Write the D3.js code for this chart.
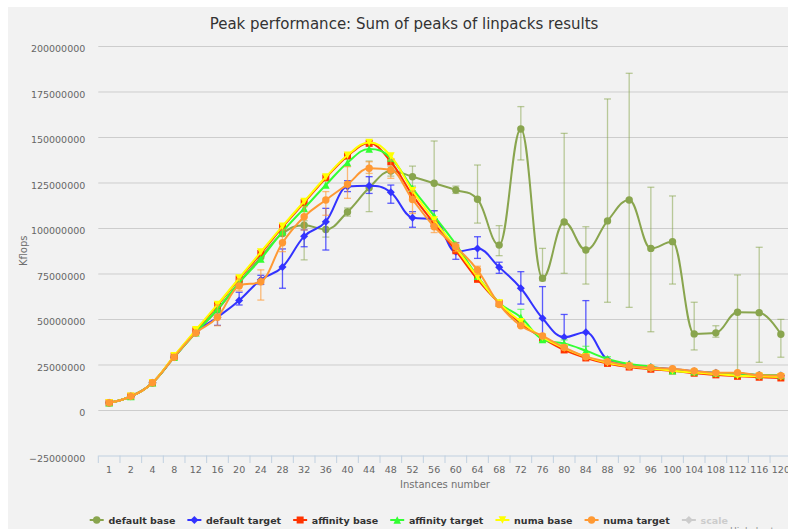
<!DOCTYPE html>
<html>
<head>
<meta charset="utf-8">
<script src="https://cdn.jsdelivr.net/npm/d3@7"></script>
<style>
html, body { margin: 0; padding: 0; background: #fff; overflow: hidden; }
svg { display: block; font-family: "DejaVu Sans", sans-serif; }
</style>
</head>
<body>
<svg id="chart" width="788" height="529"></svg>
<script>
// values are in millions of Kflops
const categories = ['1','2','4','8','12','16','20','24','28','32','36','40','44','48','52','56',
    '60','64','68','72','76','80','84','88','92','96','100','104','108','112','116','120'];
const yTicks = [-25, 0, 25, 50, 75, 100, 125, 150, 175, 200];

const defaultBase = [4, 7.5, 15, 29, 42.5, 55, 70, 84, 97, 101.5, 99.2, 108.8, 122.1, 131.3, 128.2, 124.6,
    120.9, 115.8, 90.6, 154.4, 72.4, 103.3, 87.9, 103.9, 115.4, 88.8, 92.5, 41.8, 42.4, 53.7, 53.5, 41.6];
const defaultBaseErr = [null, null, null, null, null, null, null, null, null, [82.5, 104], [95, 103], [106.5, 111],
    [109, 136.8], [128.5, 134], [123, 134], [109.5, 147.8], [119, 123], [102.7, 134.6], [84.8, 101.3], [137.4, 166.7],
    [71, 88.8], [75.1, 152], [69.2, 100.7], [59.2, 170.9], [56.4, 185], [43, 122.4], [69.2, 117.6], [33, 59.2],
    [40, 46.3], [18.5, 74.2], [26.2, 89.4], [29, 49.8]];

const defaultTarget = [4, 7.5, 15, 29, 42.5, 51, 60.2, 71.6, 78.6, 95.4, 103.5, 122.8, 123.2, 119.6, 105.6, 104.8,
    87, 88.7, 78.5, 66.9, 50.4, 40, 42.7, 27.7, 25, 23.5, 22.5, 21.3, 20.4, 20, 19.2, 19];
const defaultTargetErr = [null, null, null, null, null, [46.5, 54], [57.7, 64.7], [69, 74], [66.9, 88.5], [89.7, 99],
    [87.9, 110.8], [120, 126], [119, 128.2], [113.6, 123.6], [100.4, 109], [101, 109.5], [82.8, 91.9], [83.3, 95.2],
    [75.1, 81.2], [58.2, 76], [40.3, 67.8], [36, 52.5], [29.3, 60.1], null, null, null, null, null, null, null, null, null];

const affinityBase = [4, 7.5, 15, 29.5, 43.5, 57.5, 72, 86, 100.5, 114, 127.5, 139.5, 146.5, 136.4, 118.1, 102.5,
    87.5, 71.8, 58.6, 47.5, 39.5, 33, 28.6, 25.6, 23.6, 22.4, 21.5, 20.2, 19.3, 18.5, 18, 17.6];

const affinityTarget = [4, 7.5, 15, 29, 42.5, 55.5, 70, 83, 98, 110.8, 123.6, 135.9, 143.4, 138.5, 121.8, 106.6,
    91, 73.5, 59, 50.9, 38.8, 36.6, 32.6, 28, 25.3, 23.8, 21.6, 21, 20.3, 20, 19.3, 19];
const affinityTargetErr = [null, null, null, null, null, null, null, null, null, null, null, null, null, null, null, null,
    null, null, null, [48, 55.3], [37.5, 40.5], [35, 38.5], [31, 35], [27, 29.3], null, null, null, null, null, null, null, null];

const numaBase = [4, 7.5, 15, 29.8, 44, 58, 72.5, 86.8, 101, 114.6, 128, 140, 147, 139.5, 120.5, 104.4,
    89, 73.2, 58.8, 48.5, 40, 34, 29.2, 26, 24, 22.8, 21.6, 20.6, 19.8, 18.8, 18.5, 18.2];

const numaTarget = [4, 7.5, 15, 29, 42.3, 51, 68.2, 70.5, 91.9, 106.2, 115.4, 124, 132.8, 131.9, 115.7, 100.7,
    89.7, 76.9, 58, 46.3, 40.7, 34.4, 29.3, 26.6, 24.2, 23.2, 22.7, 21.4, 20.4, 20.5, 19.1, 18.9];
const numaTargetErr = [null, null, null, null, null, [46.3, 57.7], [65.5, 72], [60.4, 77], [87, 99], [98.9, 111.7],
    [107, 120], [116.3, 133.7], [130, 136.4], [127.3, 137.4], [108, 120.3], [97.5, 104], [87, 92], [74.5, 79],
    null, null, null, null, null, null, null, null, null, null, null, null, null, null];

const series = [
    {name: 'default base', color: '#89a54e', marker: 'circle', values: defaultBase, err: defaultBaseErr, errOpacity: 0.55},
    {name: 'default target', color: '#3333ff', marker: 'diamond', values: defaultTarget, err: defaultTargetErr, errOpacity: 0.8},
    {name: 'affinity base', color: '#ff3300', marker: 'square', values: affinityBase},
    {name: 'affinity target', color: '#33ff33', marker: 'triangle', values: affinityTarget, err: affinityTargetErr, errOpacity: 0.6},
    {name: 'numa base', color: '#ffff00', marker: 'triangle-down', values: numaBase},
    {name: 'numa target', color: '#ff9933', marker: 'circle', values: numaTarget, err: numaTargetErr, errOpacity: 0.65},
    {name: 'scale', color: '#cccccc', marker: 'diamond', values: null}
];

const svg = d3.select('#chart');
svg.append('rect').attr('x', 8).attr('y', 7).attr('width', 800).attr('height', 531).attr('fill', '#f2f2f2');

const plot = {left: 98.3, right: 791.7, top: 46, bottom: 455.5};
const x = d3.scaleBand().domain(categories).range([plot.left, plot.right]);
const y = d3.scaleLinear().domain([-25, 200]).range([plot.bottom, plot.top]);
const cx = c => x(c) + x.bandwidth() / 2;

// title
svg.append('text').attr('x', 404).attr('y', 29).attr('text-anchor', 'middle')
    .attr('font-size', 15).attr('fill', '#333')
    .text('Peak performance: Sum of peaks of linpacks results');

// y axis + grid
const yAxis = svg.append('g').attr('transform', `translate(${plot.left},0)`)
    .call(d3.axisLeft(y).tickValues(yTicks).tickSize(-(plot.right - plot.left)).tickPadding(13)
        .tickFormat(d => d3.format('d')(d * 1e6)));
yAxis.attr('font-family', null).attr('font-size', 9.5);
yAxis.select('.domain').remove();
yAxis.selectAll('.tick line').attr('stroke', '#cdcdcd');
yAxis.selectAll('.tick').filter(d => d === -25).select('line').remove();
yAxis.selectAll('.tick text').attr('fill', '#666').attr('dy', '0.58em');

svg.append('text').attr('transform', `translate(27,${(plot.top + plot.bottom) / 2}) rotate(-90)`)
    .attr('text-anchor', 'middle').attr('font-size', 10).attr('fill', '#707070').text('Kflops');

// x axis
const xAxis = svg.append('g').attr('transform', `translate(0,${plot.bottom})`)
    .call(d3.axisBottom(x).tickSize(0).tickPadding(10.5));
xAxis.attr('font-family', null).attr('font-size', 9.5);
xAxis.select('.domain').attr('stroke', '#c0d0e0');
xAxis.selectAll('.tick text').attr('fill', '#666');
svg.append('g').selectAll('line')
    .data(categories.map(c => x(c)).concat([x(categories[categories.length - 1]) + x.bandwidth()]))
    .join('line')
    .attr('x1', d => d).attr('x2', d => d)
    .attr('y1', plot.bottom).attr('y2', plot.bottom + 7.5)
    .attr('stroke', '#c0d0e0');

svg.append('text').attr('x', (plot.left + plot.right) / 2).attr('y', 488).attr('text-anchor', 'middle')
    .attr('font-size', 10).attr('fill', '#707070').text('Instances number');

// Highcharts-like spline
function splinePath(pts) {
    const p = d3.path();
    const sm = 1.5, den = sm + 1;
    let prevRight = null;
    pts.forEach((pt, i) => {
        const [px, py] = pt;
        if (i === 0) { p.moveTo(px, py); prevRight = [px, py]; return; }
        const last = pts[i - 1], next = pts[i + 1];
        let lc = [px, py], rc = [px, py];
        if (next) {
            const lcx = (sm * px + last[0]) / den, rcx = (sm * px + next[0]) / den;
            let lcy = (sm * py + last[1]) / den, rcy = (sm * py + next[1]) / den;
            const corr = ((rcy - lcy) * (rcx - px)) / (rcx - lcx) + py - rcy;
            lcy += corr; rcy += corr;
            if (lcy > last[1] && lcy > py) { lcy = Math.max(last[1], py); rcy = 2 * py - lcy; }
            else if (lcy < last[1] && lcy < py) { lcy = Math.min(last[1], py); rcy = 2 * py - lcy; }
            if (rcy > next[1] && rcy > py) { rcy = Math.max(next[1], py); lcy = 2 * py - rcy; }
            else if (rcy < next[1] && rcy < py) { rcy = Math.min(next[1], py); lcy = 2 * py - rcy; }
            lc = [lcx, lcy]; rc = [rcx, rcy];
        }
        p.bezierCurveTo(prevRight[0], prevRight[1], lc[0], lc[1], px, py);
        prevRight = rc;
    });
    return p.toString();
}

function markerPath(type, mx, my, r) {
    const p = d3.path();
    if (type === 'circle') { p.arc(mx, my, r, 0, 2 * Math.PI); }
    else if (type === 'square') { p.rect(mx - r, my - r, 2 * r, 2 * r); }
    else if (type === 'diamond') { p.moveTo(mx, my - r); p.lineTo(mx + r, my); p.lineTo(mx, my + r); p.lineTo(mx - r, my); p.closePath(); }
    else if (type === 'triangle') { p.moveTo(mx, my - r); p.lineTo(mx + r, my + r); p.lineTo(mx - r, my + r); p.closePath(); }
    else { p.moveTo(mx - r, my - r); p.lineTo(mx + r, my - r); p.lineTo(mx, my + r); p.closePath(); }
    return p.toString();
}
const markerSize = {circle: 3.7, diamond: 4, square: 3.5, triangle: 3.8, 'triangle-down': 3.8};

const plotG = svg.append('g');
series.filter(s => s.values).forEach(s => {
    const g = plotG.append('g');
    if (s.err) {
        const eb = s.err.map((e, i) => e ? {c: categories[i], lo: e[0], hi: e[1]} : null).filter(e => e);
        const eg = g.append('g').attr('stroke', s.color).attr('stroke-opacity', s.errOpacity).attr('stroke-width', 1.3);
        eg.selectAll('.stem').data(eb).join('line').attr('class', 'stem')
            .attr('x1', d => cx(d.c)).attr('x2', d => cx(d.c)).attr('y1', d => y(d.lo)).attr('y2', d => y(d.hi));
        ['lo', 'hi'].forEach(k => {
            eg.selectAll('.cap-' + k).data(eb).join('line').attr('class', 'cap-' + k)
                .attr('x1', d => cx(d.c) - 3.5).attr('x2', d => cx(d.c) + 3.5)
                .attr('y1', d => y(d[k])).attr('y2', d => y(d[k]));
        });
    }
    const pts = s.values.map((v, i) => [cx(categories[i]), y(v)]);
    g.append('path').attr('d', splinePath(pts)).attr('fill', 'none')
        .attr('stroke', s.color).attr('stroke-width', 2);
    g.selectAll('.pt').data(pts).join('path').attr('class', 'pt')
        .attr('d', d => markerPath(s.marker, d[0], d[1], markerSize[s.marker]))
        .attr('fill', s.color);
});

// legend
const legend = svg.append('g');
let lx = 89.7;
series.forEach(s => {
    const hidden = !s.values;
    const col = hidden ? '#cccccc' : s.color;
    legend.append('line').attr('x1', lx).attr('x2', lx + 14).attr('y1', 520).attr('y2', 520)
        .attr('stroke', col).attr('stroke-width', 2);
    legend.append('path').attr('d', markerPath(s.marker, lx + 7, 520, markerSize[s.marker])).attr('fill', col);
    const t = legend.append('text').attr('x', lx + 18.7).attr('y', 523.5)
        .attr('font-size', 9.5).attr('font-weight', 'bold')
        .attr('fill', hidden ? '#cccccc' : '#333').text(s.name);
    lx += 18.7 + t.node().getComputedTextLength() + 12;
});

svg.append('text').attr('x', 730).attr('y', 534).attr('font-size', 9).attr('fill', '#909090').text('Highcharts.com');
</script>
</body>
</html>
